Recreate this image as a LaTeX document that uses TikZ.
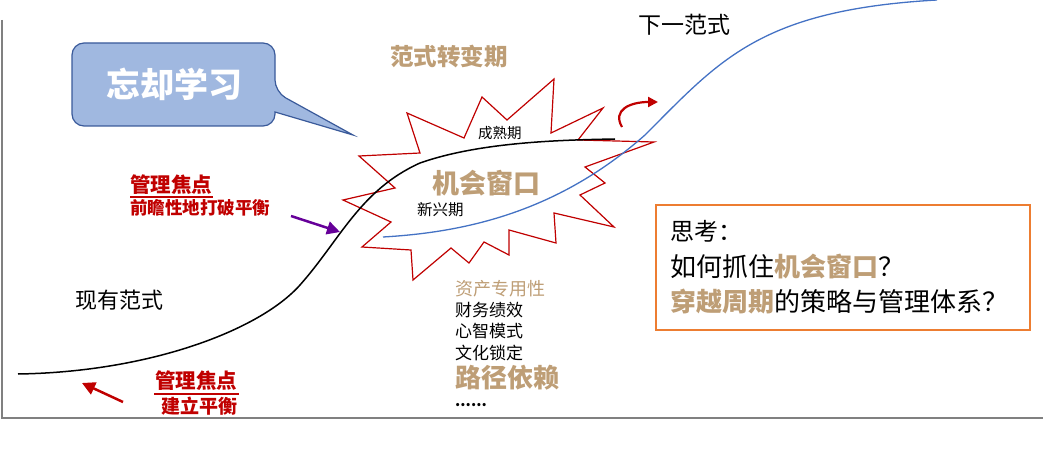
\documentclass[tikz,border=0pt]{standalone}
\usepackage{fontspec}
\setmainfont{Noto Sans CJK SC}
\usetikzlibrary{arrows.meta}
\definecolor{tan}{RGB}{190,158,118}
\definecolor{dred}{RGB}{192,0,0}
\definecolor{cfill}{RGB}{160,184,224}
\definecolor{cedge}{RGB}{58,90,154}
\definecolor{bl}{RGB}{68,114,196}
\definecolor{org}{RGB}{237,125,49}
\newcommand{\fs}[1]{\fontsize{#1}{#1}\selectfont}
\begin{document}
\begin{tikzpicture}[x=1pt,y=-1pt,
  lbl/.style={inner sep=0pt,anchor=center},
  redb/.style={lbl,anchor=west,text=dred,font=\bfseries},
  arr/.style={-{Triangle[length=13pt,width=13pt]},line width=2.5pt}]
\useasboundingbox (0,0) rectangle (1046,462);
\draw[gray,line width=2pt] (2,20) -- (2,418) -- (1043,418);
% star
\draw[dred,line width=1.2pt,fill=white] (359,156)--(420,153)--(407,113)--(464,138)--(482,97)--(507,120)--(554,79)--(551,133)--(603,108)--(578,140)--(654,142)--(585,167)--(605,183)--(580,195)--(614,227)--(554,213)--(556,243)--(509,230)--(509,255)--(484,242)--(469,263)--(451,248)--(413,280)--(411,250)--(362,247)--(391,222)--(343,200)--(395,188)--cycle;
% curves
\draw[black,line width=1.5pt] (18,374) .. controls (150,372) and (260,330) .. (300,285) .. controls (340,240) and (360,190) .. (420,163) .. controls (480,142) and (560,140) .. (615,139);
\draw[bl,line width=1.3pt] (383,237) .. controls (470,232) and (560,210) .. (645,135) .. controls (720,60) and (760,10) .. (937,0);
% callout
\draw[cedge,line width=1.2pt,fill=cfill,rounded corners=12pt] (72,43) -- (275,43) -- (275,92) [sharp corners]-- (353,135) -- (275,112) [rounded corners=12pt] -- (275,126) -- (72,126) -- cycle;
\node[lbl,text=white,font=\bfseries\fs{34}] (cl) at (174,84) {忘却学习};
% arrows
\draw[dred,-{Triangle[length=10pt,width=10pt]},line width=2.2pt] (622,127) .. controls (612,110) and (630,102) .. (658,102);
\coordinate (pa) at (291,216); \coordinate (pb) at (340,232);
\draw[arr,color=violet!80!blue] (pa) -- (pb);
\coordinate (ra) at (123,402); \coordinate (rb) at (82,383);
\draw[arr,color=dred] (ra) -- (rb);
% labels
\node[redb,font=\bfseries\fs{20.5}] (m1) at (130,185) {管理焦点};
\draw[dred,line width=1.2pt] (130,197) -- (213,197);
\node[redb,font=\bfseries\fs{17.5}] (m1b) at (130,208) {前瞻性地打破平衡};
\node[redb,font=\bfseries\fs{20.5}] (m2) at (155,381) {管理焦点};
\draw[dred,line width=1.2pt] (154,394) -- (239,394);
\node[redb,font=\bfseries\fs{19}] (m2b) at (161,406) {建立平衡};
\node[lbl,anchor=west,font=\fs{22}] (xy) at (75,300) {现有范式};
\node[lbl,anchor=west,font=\fs{23}] (xia) at (638,25) {下一范式};
\node[lbl,anchor=west,text=tan,font=\bfseries\fs{23.5}] (zb) at (390,57) {范式转变期};
\node[lbl,anchor=west,font=\fs{14.5}] (cs) at (478,133) {成熟期};
\node[lbl,anchor=west,text=tan,font=\bfseries\fs{27}] (jh) at (432,183) {机会窗口};
\node[lbl,anchor=west,font=\fs{15.5}] (xx) at (417,210) {新兴期};
\node[lbl,anchor=west,text=tan,font=\fs{18}] (l1) at (455,289) {资产专用性};
\node[lbl,anchor=west,font=\fs{17}] (l2) at (455,310) {财务绩效};
\node[lbl,anchor=west,font=\fs{17}] (l3) at (455,331) {心智模式};
\node[lbl,anchor=west,font=\fs{17}] (l4) at (455,353) {文化锁定};
\node[lbl,anchor=west,text=tan,font=\bfseries\fs{26}] (l5) at (455,378) {路径依赖};
\node[lbl,anchor=west,font=\bfseries\fs{15}] (l6) at (455,405) {......};
% box
\draw[org,line width=1.5pt] (656,205) rectangle (1030,330);
\node[lbl,anchor=west,font=\fs{24}] (t1) at (670,231) {思考：};
\node[lbl,anchor=west,font=\fs{26}] (t2) at (670,267) {如何抓住\textcolor{tan}{\bfseries 机会窗口}？};
\node[lbl,anchor=west,font=\fs{26}] (t3) at (670,302) {\textcolor{tan}{\bfseries 穿越周期}的策略与管理体系？};
\end{tikzpicture}
\end{document}
